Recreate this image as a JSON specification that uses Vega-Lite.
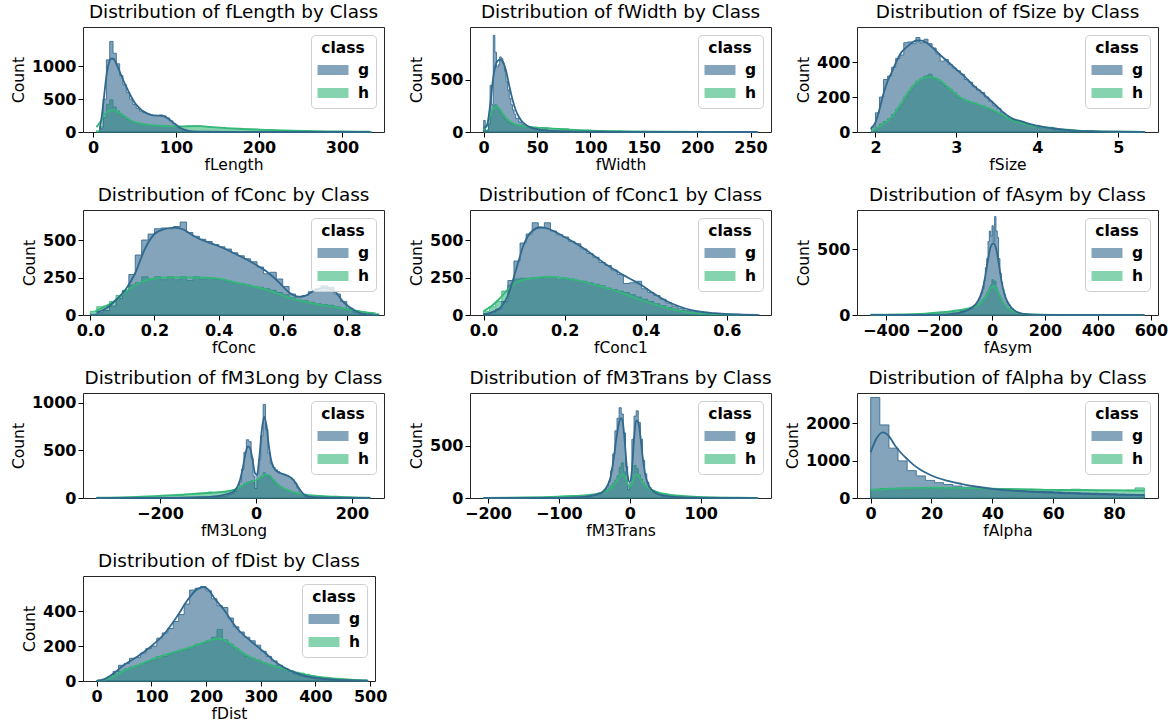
{
"$schema":"https://vega.github.io/schema/vega-lite/v6.json",
"background":"white",
"padding":{"left":10,"top":2,"right":2,"bottom":0},
"columns":3,
"bounds":"flush",
"spacing":{"row":78,"column":86},
"resolve":{"scale":{"fill":"independent","stroke":"independent"},"legend":{"fill":"independent","stroke":"independent"}},
"datasets":{
"fLength":[
{"c":"h","x":4,"n":20},{"c":"h","x":8,"n":90},{"c":"h","x":12,"n":220},{"c":"h","x":16,"n":420},{"c":"h","x":20,"n":490},{"c":"h","x":24,"n":380},{"c":"h","x":28,"n":320},{"c":"h","x":32,"n":270},{"c":"h","x":36,"n":230},{"c":"h","x":40,"n":190},{"c":"h","x":44,"n":165},{"c":"h","x":48,"n":145},{"c":"h","x":52,"n":130},{"c":"h","x":56,"n":120},{"c":"h","x":60,"n":115},{"c":"h","x":64,"n":108},{"c":"h","x":68,"n":100},{"c":"h","x":72,"n":98},{"c":"h","x":76,"n":95},{"c":"h","x":80,"n":92},{"c":"h","x":84,"n":90},{"c":"h","x":88,"n":88},{"c":"h","x":92,"n":86},{"c":"h","x":96,"n":85},{"c":"h","x":100,"n":84},{"c":"h","x":104,"n":84},{"c":"h","x":108,"n":85},{"c":"h","x":112,"n":88},{"c":"h","x":116,"n":90},{"c":"h","x":120,"n":92},{"c":"h","x":130,"n":85},{"c":"h","x":140,"n":70},{"c":"h","x":160,"n":55},{"c":"h","x":180,"n":42},{"c":"h","x":200,"n":32},{"c":"h","x":220,"n":24},{"c":"h","x":240,"n":17},{"c":"h","x":260,"n":12},{"c":"h","x":280,"n":9},{"c":"h","x":300,"n":6},{"c":"h","x":320,"n":4},{"c":"h","x":336,"n":0},
{"c":"g","x":8,"n":60},{"c":"g","x":12,"n":500},{"c":"g","x":16,"n":1100},{"c":"g","x":20,"n":1380},{"c":"g","x":24,"n":1200},{"c":"g","x":28,"n":1040},{"c":"g","x":32,"n":860},{"c":"g","x":36,"n":720},{"c":"g","x":40,"n":600},{"c":"g","x":44,"n":500},{"c":"g","x":48,"n":420},{"c":"g","x":52,"n":360},{"c":"g","x":56,"n":320},{"c":"g","x":60,"n":295},{"c":"g","x":64,"n":275},{"c":"g","x":68,"n":260},{"c":"g","x":72,"n":250},{"c":"g","x":76,"n":250},{"c":"g","x":80,"n":260},{"c":"g","x":84,"n":245},{"c":"g","x":88,"n":215},{"c":"g","x":92,"n":170},{"c":"g","x":96,"n":125},{"c":"g","x":100,"n":80},{"c":"g","x":104,"n":50},{"c":"g","x":108,"n":30},{"c":"g","x":112,"n":18},{"c":"g","x":116,"n":10},{"c":"g","x":120,"n":4},{"c":"g","x":160,"n":1},{"c":"g","x":334,"n":0}],
"fLength_k":[
{"c":"h","x":4,"k":75},{"c":"h","x":8,"k":140},{"c":"h","x":12,"k":230},{"c":"h","x":16,"k":295},{"c":"h","x":20,"k":325},{"c":"h","x":24,"k":332},{"c":"h","x":28,"k":320},{"c":"h","x":32,"k":290},{"c":"h","x":36,"k":255},{"c":"h","x":40,"k":220},{"c":"h","x":45,"k":180},{"c":"h","x":50,"k":152},{"c":"h","x":55,"k":135},{"c":"h","x":60,"k":122},{"c":"h","x":70,"k":105},{"c":"h","x":80,"k":95},{"c":"h","x":90,"k":88},{"c":"h","x":100,"k":85},{"c":"h","x":110,"k":86},{"c":"h","x":120,"k":90},{"c":"h","x":130,"k":88},{"c":"h","x":140,"k":78},{"c":"h","x":160,"k":60},{"c":"h","x":180,"k":46},{"c":"h","x":200,"k":36},{"c":"h","x":220,"k":28},{"c":"h","x":240,"k":21},{"c":"h","x":260,"k":15},{"c":"h","x":280,"k":11},{"c":"h","x":300,"k":8},{"c":"h","x":320,"k":6},{"c":"h","x":334,"k":5},
{"c":"g","x":8,"k":40},{"c":"g","x":10,"k":200},{"c":"g","x":13,"k":520},{"c":"g","x":16,"k":850},{"c":"g","x":19,"k":1050},{"c":"g","x":22,"k":1120},{"c":"g","x":25,"k":1110},{"c":"g","x":28,"k":1040},{"c":"g","x":32,"k":920},{"c":"g","x":36,"k":800},{"c":"g","x":40,"k":690},{"c":"g","x":45,"k":560},{"c":"g","x":50,"k":450},{"c":"g","x":55,"k":375},{"c":"g","x":60,"k":320},{"c":"g","x":65,"k":285},{"c":"g","x":70,"k":262},{"c":"g","x":75,"k":252},{"c":"g","x":80,"k":250},{"c":"g","x":85,"k":242},{"c":"g","x":90,"k":210},{"c":"g","x":95,"k":160},{"c":"g","x":100,"k":110},{"c":"g","x":105,"k":65},{"c":"g","x":110,"k":35},{"c":"g","x":115,"k":18},{"c":"g","x":120,"k":10},{"c":"g","x":140,"k":4},{"c":"g","x":180,"k":2},{"c":"g","x":250,"k":1},{"c":"g","x":334,"k":0.5}],
"fWidth":[
{"c":"h","x":0,"n":40},{"c":"h","x":1.5,"n":5},{"c":"h","x":3,"n":20},{"c":"h","x":4.5,"n":70},{"c":"h","x":6,"n":150},{"c":"h","x":7.5,"n":190},{"c":"h","x":9,"n":250},{"c":"h","x":10.5,"n":260},{"c":"h","x":12,"n":245},{"c":"h","x":13.5,"n":220},{"c":"h","x":15,"n":190},{"c":"h","x":16.5,"n":165},{"c":"h","x":18,"n":140},{"c":"h","x":19.5,"n":120},{"c":"h","x":21,"n":105},{"c":"h","x":22.5,"n":95},{"c":"h","x":24,"n":85},{"c":"h","x":25.5,"n":78},{"c":"h","x":27,"n":72},{"c":"h","x":28.5,"n":68},{"c":"h","x":30,"n":63},{"c":"h","x":33,"n":58},{"c":"h","x":36,"n":54},{"c":"h","x":40,"n":48},{"c":"h","x":45,"n":44},{"c":"h","x":50,"n":40},{"c":"h","x":60,"n":30},{"c":"h","x":80,"n":18},{"c":"h","x":100,"n":10},{"c":"h","x":130,"n":4},{"c":"h","x":180,"n":1},{"c":"h","x":257,"n":0},
{"c":"g","x":0,"n":110},{"c":"g","x":1.5,"n":8},{"c":"g","x":3,"n":15},{"c":"g","x":4.5,"n":80},{"c":"g","x":6,"n":445},{"c":"g","x":7.5,"n":260},{"c":"g","x":9,"n":920},{"c":"g","x":10.5,"n":760},{"c":"g","x":12,"n":620},{"c":"g","x":13.5,"n":640},{"c":"g","x":15,"n":715},{"c":"g","x":16.5,"n":700},{"c":"g","x":18,"n":650},{"c":"g","x":19.5,"n":580},{"c":"g","x":21,"n":480},{"c":"g","x":22.5,"n":400},{"c":"g","x":24,"n":320},{"c":"g","x":25.5,"n":260},{"c":"g","x":27,"n":210},{"c":"g","x":28.5,"n":170},{"c":"g","x":30,"n":130},{"c":"g","x":33,"n":95},{"c":"g","x":36,"n":70},{"c":"g","x":40,"n":48},{"c":"g","x":45,"n":32},{"c":"g","x":50,"n":20},{"c":"g","x":60,"n":9},{"c":"g","x":80,"n":4},{"c":"g","x":100,"n":2},{"c":"g","x":130,"n":1},{"c":"g","x":180,"n":0.5},{"c":"g","x":257,"n":0}],
"fWidth_k":[
{"c":"h","x":0,"k":20},{"c":"h","x":3,"k":60},{"c":"h","x":6,"k":150},{"c":"h","x":9,"k":225},{"c":"h","x":12,"k":245},{"c":"h","x":15,"k":220},{"c":"h","x":18,"k":175},{"c":"h","x":21,"k":135},{"c":"h","x":24,"k":105},{"c":"h","x":27,"k":85},{"c":"h","x":30,"k":72},{"c":"h","x":35,"k":60},{"c":"h","x":40,"k":50},{"c":"h","x":50,"k":42},{"c":"h","x":60,"k":36},{"c":"h","x":70,"k":29},{"c":"h","x":80,"k":23},{"c":"h","x":90,"k":18},{"c":"h","x":100,"k":13},{"c":"h","x":120,"k":8},{"c":"h","x":140,"k":5.5},{"c":"h","x":170,"k":3},{"c":"h","x":210,"k":1.5},{"c":"h","x":256,"k":0.5},
{"c":"g","x":0,"k":40},{"c":"g","x":3,"k":60},{"c":"g","x":6,"k":250},{"c":"g","x":9,"k":520},{"c":"g","x":12,"k":660},{"c":"g","x":15,"k":690},{"c":"g","x":18,"k":670},{"c":"g","x":21,"k":580},{"c":"g","x":24,"k":440},{"c":"g","x":27,"k":310},{"c":"g","x":30,"k":210},{"c":"g","x":33,"k":145},{"c":"g","x":36,"k":100},{"c":"g","x":40,"k":65},{"c":"g","x":45,"k":40},{"c":"g","x":50,"k":27},{"c":"g","x":60,"k":14},{"c":"g","x":70,"k":8},{"c":"g","x":90,"k":4},{"c":"g","x":120,"k":2},{"c":"g","x":180,"k":0.5},{"c":"g","x":256,"k":0.2}],
"fSize":[
{"c":"h","x":1.95,"n":8},{"c":"h","x":2.0,"n":25},{"c":"h","x":2.05,"n":45},{"c":"h","x":2.1,"n":60},{"c":"h","x":2.15,"n":75},{"c":"h","x":2.2,"n":100},{"c":"h","x":2.25,"n":130},{"c":"h","x":2.3,"n":160},{"c":"h","x":2.35,"n":200},{"c":"h","x":2.4,"n":230},{"c":"h","x":2.45,"n":260},{"c":"h","x":2.5,"n":290},{"c":"h","x":2.55,"n":305},{"c":"h","x":2.6,"n":320},{"c":"h","x":2.65,"n":330},{"c":"h","x":2.7,"n":310},{"c":"h","x":2.75,"n":300},{"c":"h","x":2.8,"n":280},{"c":"h","x":2.85,"n":260},{"c":"h","x":2.9,"n":245},{"c":"h","x":2.95,"n":225},{"c":"h","x":3.0,"n":200},{"c":"h","x":3.05,"n":190},{"c":"h","x":3.1,"n":180},{"c":"h","x":3.15,"n":170},{"c":"h","x":3.2,"n":165},{"c":"h","x":3.25,"n":155},{"c":"h","x":3.3,"n":150},{"c":"h","x":3.35,"n":140},{"c":"h","x":3.4,"n":125},{"c":"h","x":3.45,"n":115},{"c":"h","x":3.5,"n":105},{"c":"h","x":3.55,"n":90},{"c":"h","x":3.6,"n":80},{"c":"h","x":3.65,"n":70},{"c":"h","x":3.7,"n":62},{"c":"h","x":3.75,"n":55},{"c":"h","x":3.8,"n":50},{"c":"h","x":3.85,"n":45},{"c":"h","x":3.9,"n":40},{"c":"h","x":3.95,"n":35},{"c":"h","x":4.0,"n":27},{"c":"h","x":4.2,"n":15},{"c":"h","x":4.4,"n":8},{"c":"h","x":4.7,"n":3},{"c":"h","x":5.0,"n":1},{"c":"h","x":5.33,"n":0},
{"c":"g","x":1.95,"n":30},{"c":"g","x":2.0,"n":110},{"c":"g","x":2.05,"n":200},{"c":"g","x":2.1,"n":300},{"c":"g","x":2.15,"n":320},{"c":"g","x":2.2,"n":370},{"c":"g","x":2.25,"n":420},{"c":"g","x":2.3,"n":440},{"c":"g","x":2.35,"n":510},{"c":"g","x":2.4,"n":515},{"c":"g","x":2.45,"n":505},{"c":"g","x":2.5,"n":540},{"c":"g","x":2.55,"n":510},{"c":"g","x":2.6,"n":530},{"c":"g","x":2.65,"n":505},{"c":"g","x":2.7,"n":480},{"c":"g","x":2.75,"n":445},{"c":"g","x":2.8,"n":405},{"c":"g","x":2.85,"n":415},{"c":"g","x":2.9,"n":385},{"c":"g","x":2.95,"n":365},{"c":"g","x":3.0,"n":350},{"c":"g","x":3.05,"n":330},{"c":"g","x":3.1,"n":300},{"c":"g","x":3.15,"n":285},{"c":"g","x":3.2,"n":260},{"c":"g","x":3.25,"n":240},{"c":"g","x":3.3,"n":225},{"c":"g","x":3.35,"n":200},{"c":"g","x":3.4,"n":175},{"c":"g","x":3.45,"n":150},{"c":"g","x":3.5,"n":135},{"c":"g","x":3.55,"n":110},{"c":"g","x":3.6,"n":90},{"c":"g","x":3.65,"n":75},{"c":"g","x":3.7,"n":65},{"c":"g","x":3.75,"n":58},{"c":"g","x":3.8,"n":55},{"c":"g","x":3.85,"n":50},{"c":"g","x":3.9,"n":42},{"c":"g","x":3.95,"n":36},{"c":"g","x":4.0,"n":25},{"c":"g","x":4.2,"n":13},{"c":"g","x":4.4,"n":6},{"c":"g","x":4.7,"n":2},{"c":"g","x":5.0,"n":1},{"c":"g","x":5.33,"n":0}],
"fSize_k":[
{"c":"h","x":1.95,"k":5},{"c":"h","x":2.0,"k":18},{"c":"h","x":2.1,"k":46},{"c":"h","x":2.2,"k":85},{"c":"h","x":2.3,"k":150},{"c":"h","x":2.4,"k":225},{"c":"h","x":2.5,"k":280},{"c":"h","x":2.6,"k":310},{"c":"h","x":2.7,"k":314},{"c":"h","x":2.8,"k":294},{"c":"h","x":2.9,"k":256},{"c":"h","x":3.0,"k":215},{"c":"h","x":3.1,"k":185},{"c":"h","x":3.2,"k":168},{"c":"h","x":3.3,"k":152},{"c":"h","x":3.4,"k":135},{"c":"h","x":3.5,"k":115},{"c":"h","x":3.6,"k":88},{"c":"h","x":3.7,"k":66},{"c":"h","x":3.8,"k":52},{"c":"h","x":3.9,"k":40},{"c":"h","x":4.0,"k":32},{"c":"h","x":4.15,"k":23},{"c":"h","x":4.35,"k":13},{"c":"h","x":4.55,"k":7},{"c":"h","x":4.8,"k":4},{"c":"h","x":5.0,"k":2.5},{"c":"h","x":5.3,"k":1},
{"c":"g","x":1.94,"k":18},{"c":"g","x":2.0,"k":55},{"c":"g","x":2.05,"k":130},{"c":"g","x":2.1,"k":220},{"c":"g","x":2.15,"k":290},{"c":"g","x":2.2,"k":340},{"c":"g","x":2.26,"k":404},{"c":"g","x":2.32,"k":455},{"c":"g","x":2.39,"k":486},{"c":"g","x":2.45,"k":510},{"c":"g","x":2.51,"k":523},{"c":"g","x":2.57,"k":522},{"c":"g","x":2.63,"k":510},{"c":"g","x":2.7,"k":485},{"c":"g","x":2.8,"k":440},{"c":"g","x":2.9,"k":400},{"c":"g","x":3.0,"k":358},{"c":"g","x":3.1,"k":318},{"c":"g","x":3.2,"k":270},{"c":"g","x":3.3,"k":232},{"c":"g","x":3.4,"k":190},{"c":"g","x":3.5,"k":147},{"c":"g","x":3.6,"k":105},{"c":"g","x":3.7,"k":75},{"c":"g","x":3.8,"k":62},{"c":"g","x":3.9,"k":46},{"c":"g","x":4.0,"k":36},{"c":"g","x":4.1,"k":27},{"c":"g","x":4.2,"k":20},{"c":"g","x":4.35,"k":12},{"c":"g","x":4.5,"k":7},{"c":"g","x":4.7,"k":4},{"c":"g","x":5.0,"k":2},{"c":"g","x":5.33,"k":0.5}],
"fConc":[
{"c":"h","x":0.0,"n":25},{"c":"h","x":0.02,"n":55},{"c":"h","x":0.04,"n":60},{"c":"h","x":0.06,"n":90},{"c":"h","x":0.08,"n":130},{"c":"h","x":0.1,"n":165},{"c":"h","x":0.12,"n":200},{"c":"h","x":0.14,"n":215},{"c":"h","x":0.16,"n":255},{"c":"h","x":0.18,"n":240},{"c":"h","x":0.2,"n":255},{"c":"h","x":0.22,"n":235},{"c":"h","x":0.24,"n":255},{"c":"h","x":0.26,"n":235},{"c":"h","x":0.28,"n":255},{"c":"h","x":0.3,"n":230},{"c":"h","x":0.32,"n":255},{"c":"h","x":0.34,"n":240},{"c":"h","x":0.36,"n":250},{"c":"h","x":0.38,"n":240},{"c":"h","x":0.4,"n":235},{"c":"h","x":0.42,"n":225},{"c":"h","x":0.44,"n":215},{"c":"h","x":0.46,"n":210},{"c":"h","x":0.48,"n":200},{"c":"h","x":0.5,"n":190},{"c":"h","x":0.52,"n":185},{"c":"h","x":0.54,"n":175},{"c":"h","x":0.56,"n":165},{"c":"h","x":0.58,"n":150},{"c":"h","x":0.6,"n":135},{"c":"h","x":0.62,"n":115},{"c":"h","x":0.64,"n":100},{"c":"h","x":0.66,"n":95},{"c":"h","x":0.68,"n":85},{"c":"h","x":0.7,"n":75},{"c":"h","x":0.72,"n":70},{"c":"h","x":0.74,"n":65},{"c":"h","x":0.76,"n":55},{"c":"h","x":0.78,"n":45},{"c":"h","x":0.8,"n":35},{"c":"h","x":0.82,"n":28},{"c":"h","x":0.84,"n":20},{"c":"h","x":0.86,"n":15},{"c":"h","x":0.88,"n":8},{"c":"h","x":0.9,"n":0},
{"c":"g","x":0.0,"n":5},{"c":"g","x":0.02,"n":15},{"c":"g","x":0.04,"n":30},{"c":"g","x":0.06,"n":60},{"c":"g","x":0.08,"n":110},{"c":"g","x":0.1,"n":160},{"c":"g","x":0.12,"n":270},{"c":"g","x":0.14,"n":400},{"c":"g","x":0.16,"n":500},{"c":"g","x":0.18,"n":540},{"c":"g","x":0.2,"n":575},{"c":"g","x":0.22,"n":580},{"c":"g","x":0.24,"n":575},{"c":"g","x":0.26,"n":590},{"c":"g","x":0.28,"n":620},{"c":"g","x":0.3,"n":550},{"c":"g","x":0.32,"n":525},{"c":"g","x":0.34,"n":505},{"c":"g","x":0.36,"n":490},{"c":"g","x":0.38,"n":470},{"c":"g","x":0.4,"n":455},{"c":"g","x":0.42,"n":440},{"c":"g","x":0.44,"n":415},{"c":"g","x":0.46,"n":395},{"c":"g","x":0.48,"n":375},{"c":"g","x":0.5,"n":355},{"c":"g","x":0.52,"n":320},{"c":"g","x":0.54,"n":275},{"c":"g","x":0.56,"n":285},{"c":"g","x":0.58,"n":240},{"c":"g","x":0.6,"n":190},{"c":"g","x":0.62,"n":140},{"c":"g","x":0.64,"n":120},{"c":"g","x":0.66,"n":130},{"c":"g","x":0.68,"n":155},{"c":"g","x":0.7,"n":175},{"c":"g","x":0.72,"n":195},{"c":"g","x":0.74,"n":185},{"c":"g","x":0.76,"n":140},{"c":"g","x":0.78,"n":90},{"c":"g","x":0.8,"n":45},{"c":"g","x":0.82,"n":20},{"c":"g","x":0.84,"n":8},{"c":"g","x":0.86,"n":2},{"c":"g","x":0.88,"n":1},{"c":"g","x":0.9,"n":0}],
"fConc_k":[
{"c":"h","x":0.015,"k":25},{"c":"h","x":0.04,"k":50},{"c":"h","x":0.06,"k":73},{"c":"h","x":0.09,"k":115},{"c":"h","x":0.12,"k":170},{"c":"h","x":0.15,"k":212},{"c":"h","x":0.18,"k":236},{"c":"h","x":0.21,"k":246},{"c":"h","x":0.25,"k":251},{"c":"h","x":0.3,"k":250},{"c":"h","x":0.35,"k":249},{"c":"h","x":0.4,"k":242},{"c":"h","x":0.45,"k":218},{"c":"h","x":0.5,"k":195},{"c":"h","x":0.55,"k":168},{"c":"h","x":0.6,"k":130},{"c":"h","x":0.65,"k":97},{"c":"h","x":0.7,"k":74},{"c":"h","x":0.75,"k":58},{"c":"h","x":0.8,"k":40},{"c":"h","x":0.85,"k":20},{"c":"h","x":0.89,"k":10},
{"c":"g","x":0.02,"k":17},{"c":"g","x":0.05,"k":45},{"c":"g","x":0.08,"k":100},{"c":"g","x":0.11,"k":170},{"c":"g","x":0.14,"k":280},{"c":"g","x":0.17,"k":440},{"c":"g","x":0.2,"k":540},{"c":"g","x":0.23,"k":572},{"c":"g","x":0.26,"k":582},{"c":"g","x":0.29,"k":570},{"c":"g","x":0.32,"k":530},{"c":"g","x":0.35,"k":498},{"c":"g","x":0.4,"k":460},{"c":"g","x":0.45,"k":410},{"c":"g","x":0.5,"k":355},{"c":"g","x":0.55,"k":290},{"c":"g","x":0.59,"k":214},{"c":"g","x":0.62,"k":150},{"c":"g","x":0.65,"k":122},{"c":"g","x":0.67,"k":128},{"c":"g","x":0.7,"k":165},{"c":"g","x":0.73,"k":182},{"c":"g","x":0.76,"k":162},{"c":"g","x":0.79,"k":85},{"c":"g","x":0.82,"k":35},{"c":"g","x":0.85,"k":8},{"c":"g","x":0.88,"k":2}],
"fConc1":[
{"c":"h","x":0.0,"n":25},{"c":"h","x":0.015,"n":55},{"c":"h","x":0.03,"n":90},{"c":"h","x":0.045,"n":160},{"c":"h","x":0.06,"n":200},{"c":"h","x":0.075,"n":240},{"c":"h","x":0.09,"n":245},{"c":"h","x":0.105,"n":245},{"c":"h","x":0.12,"n":250},{"c":"h","x":0.135,"n":245},{"c":"h","x":0.15,"n":255},{"c":"h","x":0.165,"n":250},{"c":"h","x":0.18,"n":235},{"c":"h","x":0.195,"n":245},{"c":"h","x":0.21,"n":240},{"c":"h","x":0.225,"n":230},{"c":"h","x":0.24,"n":225},{"c":"h","x":0.255,"n":215},{"c":"h","x":0.27,"n":205},{"c":"h","x":0.285,"n":195},{"c":"h","x":0.3,"n":180},{"c":"h","x":0.315,"n":170},{"c":"h","x":0.33,"n":160},{"c":"h","x":0.345,"n":150},{"c":"h","x":0.36,"n":135},{"c":"h","x":0.375,"n":120},{"c":"h","x":0.39,"n":105},{"c":"h","x":0.405,"n":90},{"c":"h","x":0.42,"n":75},{"c":"h","x":0.435,"n":62},{"c":"h","x":0.45,"n":50},{"c":"h","x":0.465,"n":40},{"c":"h","x":0.48,"n":30},{"c":"h","x":0.495,"n":22},{"c":"h","x":0.51,"n":15},{"c":"h","x":0.525,"n":12},{"c":"h","x":0.54,"n":9},{"c":"h","x":0.555,"n":7},{"c":"h","x":0.57,"n":5},{"c":"h","x":0.585,"n":4},{"c":"h","x":0.6,"n":2},{"c":"h","x":0.65,"n":0},
{"c":"g","x":0.0,"n":5},{"c":"g","x":0.015,"n":15},{"c":"g","x":0.03,"n":40},{"c":"g","x":0.045,"n":90},{"c":"g","x":0.06,"n":230},{"c":"g","x":0.075,"n":360},{"c":"g","x":0.09,"n":480},{"c":"g","x":0.105,"n":540},{"c":"g","x":0.12,"n":615},{"c":"g","x":0.135,"n":580},{"c":"g","x":0.15,"n":615},{"c":"g","x":0.165,"n":560},{"c":"g","x":0.18,"n":535},{"c":"g","x":0.195,"n":520},{"c":"g","x":0.21,"n":490},{"c":"g","x":0.225,"n":475},{"c":"g","x":0.24,"n":440},{"c":"g","x":0.255,"n":410},{"c":"g","x":0.27,"n":385},{"c":"g","x":0.285,"n":350},{"c":"g","x":0.3,"n":330},{"c":"g","x":0.315,"n":300},{"c":"g","x":0.33,"n":270},{"c":"g","x":0.345,"n":210},{"c":"g","x":0.36,"n":215},{"c":"g","x":0.375,"n":225},{"c":"g","x":0.39,"n":175},{"c":"g","x":0.405,"n":150},{"c":"g","x":0.42,"n":130},{"c":"g","x":0.435,"n":105},{"c":"g","x":0.45,"n":80},{"c":"g","x":0.465,"n":60},{"c":"g","x":0.48,"n":45},{"c":"g","x":0.495,"n":32},{"c":"g","x":0.51,"n":22},{"c":"g","x":0.525,"n":15},{"c":"g","x":0.54,"n":10},{"c":"g","x":0.555,"n":7},{"c":"g","x":0.57,"n":5},{"c":"g","x":0.585,"n":3},{"c":"g","x":0.6,"n":1},{"c":"g","x":0.68,"n":0}],
"fConc1_k":[
{"c":"h","x":0.0,"k":27},{"c":"h","x":0.02,"k":60},{"c":"h","x":0.04,"k":110},{"c":"h","x":0.06,"k":170},{"c":"h","x":0.08,"k":215},{"c":"h","x":0.1,"k":236},{"c":"h","x":0.13,"k":248},{"c":"h","x":0.16,"k":255},{"c":"h","x":0.19,"k":248},{"c":"h","x":0.22,"k":238},{"c":"h","x":0.25,"k":220},{"c":"h","x":0.28,"k":198},{"c":"h","x":0.31,"k":175},{"c":"h","x":0.34,"k":148},{"c":"h","x":0.37,"k":118},{"c":"h","x":0.4,"k":90},{"c":"h","x":0.43,"k":64},{"c":"h","x":0.46,"k":42},{"c":"h","x":0.49,"k":24},{"c":"h","x":0.52,"k":13},{"c":"h","x":0.56,"k":8},{"c":"h","x":0.6,"k":5},{"c":"h","x":0.63,"k":3},
{"c":"g","x":0.0,"k":5},{"c":"g","x":0.02,"k":18},{"c":"g","x":0.04,"k":45},{"c":"g","x":0.06,"k":130},{"c":"g","x":0.08,"k":300},{"c":"g","x":0.1,"k":475},{"c":"g","x":0.12,"k":560},{"c":"g","x":0.14,"k":585},{"c":"g","x":0.16,"k":575},{"c":"g","x":0.18,"k":550},{"c":"g","x":0.2,"k":520},{"c":"g","x":0.22,"k":490},{"c":"g","x":0.24,"k":456},{"c":"g","x":0.27,"k":400},{"c":"g","x":0.3,"k":342},{"c":"g","x":0.33,"k":290},{"c":"g","x":0.36,"k":243},{"c":"g","x":0.39,"k":198},{"c":"g","x":0.42,"k":143},{"c":"g","x":0.45,"k":95},{"c":"g","x":0.48,"k":60},{"c":"g","x":0.51,"k":34},{"c":"g","x":0.54,"k":20},{"c":"g","x":0.57,"k":12},{"c":"g","x":0.6,"k":6},{"c":"g","x":0.64,"k":3},{"c":"g","x":0.675,"k":1}],
"fAsym":[
{"c":"h","x":-458,"n":2},{"c":"h","x":-300,"n":6},{"c":"h","x":-250,"n":12},{"c":"h","x":-200,"n":22},{"c":"h","x":-150,"n":32},{"c":"h","x":-120,"n":42},{"c":"h","x":-100,"n":50},{"c":"h","x":-85,"n":58},{"c":"h","x":-70,"n":65},{"c":"h","x":-60,"n":72},{"c":"h","x":-55,"n":80},{"c":"h","x":-50,"n":88},{"c":"h","x":-45,"n":98},{"c":"h","x":-40,"n":110},{"c":"h","x":-35,"n":122},{"c":"h","x":-30,"n":135},{"c":"h","x":-25,"n":150},{"c":"h","x":-20,"n":170},{"c":"h","x":-15,"n":190},{"c":"h","x":-10,"n":210},{"c":"h","x":-5,"n":230},{"c":"h","x":0,"n":270},{"c":"h","x":5,"n":240},{"c":"h","x":10,"n":260},{"c":"h","x":15,"n":210},{"c":"h","x":20,"n":185},{"c":"h","x":25,"n":160},{"c":"h","x":30,"n":135},{"c":"h","x":35,"n":115},{"c":"h","x":40,"n":95},{"c":"h","x":45,"n":80},{"c":"h","x":50,"n":68},{"c":"h","x":55,"n":58},{"c":"h","x":60,"n":45},{"c":"h","x":70,"n":32},{"c":"h","x":80,"n":22},{"c":"h","x":90,"n":15},{"c":"h","x":100,"n":9},{"c":"h","x":120,"n":4},{"c":"h","x":150,"n":1.5},{"c":"h","x":250,"n":0.5},{"c":"h","x":575,"n":0},
{"c":"g","x":-458,"n":0.5},{"c":"g","x":-300,"n":2},{"c":"g","x":-200,"n":5},{"c":"g","x":-150,"n":15},{"c":"g","x":-120,"n":35},{"c":"g","x":-100,"n":42},{"c":"g","x":-85,"n":55},{"c":"g","x":-70,"n":75},{"c":"g","x":-60,"n":90},{"c":"g","x":-55,"n":105},{"c":"g","x":-50,"n":120},{"c":"g","x":-45,"n":140},{"c":"g","x":-40,"n":165},{"c":"g","x":-35,"n":200},{"c":"g","x":-30,"n":260},{"c":"g","x":-25,"n":360},{"c":"g","x":-20,"n":430},{"c":"g","x":-15,"n":560},{"c":"g","x":-10,"n":640},{"c":"g","x":-5,"n":600},{"c":"g","x":0,"n":680},{"c":"g","x":5,"n":560},{"c":"g","x":10,"n":750},{"c":"g","x":15,"n":640},{"c":"g","x":20,"n":590},{"c":"g","x":25,"n":430},{"c":"g","x":30,"n":320},{"c":"g","x":35,"n":250},{"c":"g","x":40,"n":200},{"c":"g","x":45,"n":160},{"c":"g","x":50,"n":125},{"c":"g","x":55,"n":100},{"c":"g","x":60,"n":75},{"c":"g","x":70,"n":50},{"c":"g","x":80,"n":32},{"c":"g","x":90,"n":20},{"c":"g","x":100,"n":10},{"c":"g","x":120,"n":4},{"c":"g","x":150,"n":1.5},{"c":"g","x":250,"n":0.5},{"c":"g","x":575,"n":0}],
"fAsym_k":[
{"c":"h","x":-458,"k":2},{"c":"h","x":-350,"k":4},{"c":"h","x":-300,"k":6},{"c":"h","x":-250,"k":11},{"c":"h","x":-200,"k":20},{"c":"h","x":-150,"k":30},{"c":"h","x":-100,"k":45},{"c":"h","x":-70,"k":62},{"c":"h","x":-50,"k":82},{"c":"h","x":-30,"k":120},{"c":"h","x":-15,"k":170},{"c":"h","x":-5,"k":205},{"c":"h","x":5,"k":218},{"c":"h","x":15,"k":205},{"c":"h","x":25,"k":168},{"c":"h","x":35,"k":125},{"c":"h","x":45,"k":88},{"c":"h","x":55,"k":62},{"c":"h","x":70,"k":40},{"c":"h","x":85,"k":24},{"c":"h","x":100,"k":14},{"c":"h","x":120,"k":8},{"c":"h","x":150,"k":4},{"c":"h","x":250,"k":1.5},{"c":"h","x":575,"k":0.5},
{"c":"g","x":-458,"k":0.5},{"c":"g","x":-300,"k":1},{"c":"g","x":-200,"k":3},{"c":"g","x":-150,"k":8},{"c":"g","x":-120,"k":18},{"c":"g","x":-100,"k":30},{"c":"g","x":-80,"k":50},{"c":"g","x":-60,"k":85},{"c":"g","x":-45,"k":140},{"c":"g","x":-35,"k":200},{"c":"g","x":-25,"k":300},{"c":"g","x":-15,"k":420},{"c":"g","x":-5,"k":520},{"c":"g","x":5,"k":545},{"c":"g","x":15,"k":510},{"c":"g","x":25,"k":400},{"c":"g","x":35,"k":270},{"c":"g","x":45,"k":175},{"c":"g","x":55,"k":115},{"c":"g","x":70,"k":65},{"c":"g","x":85,"k":35},{"c":"g","x":100,"k":18},{"c":"g","x":120,"k":8},{"c":"g","x":150,"k":3},{"c":"g","x":250,"k":1},{"c":"g","x":575,"k":0.3}],
"fM3Long":[
{"c":"h","x":-332,"n":4},{"c":"h","x":-250,"n":14},{"c":"h","x":-200,"n":28},{"c":"h","x":-150,"n":40},{"c":"h","x":-120,"n":48},{"c":"h","x":-100,"n":62},{"c":"h","x":-90,"n":55},{"c":"h","x":-80,"n":60},{"c":"h","x":-60,"n":70},{"c":"h","x":-50,"n":82},{"c":"h","x":-45,"n":90},{"c":"h","x":-40,"n":100},{"c":"h","x":-35,"n":115},{"c":"h","x":-30,"n":130},{"c":"h","x":-25,"n":150},{"c":"h","x":-20,"n":165},{"c":"h","x":-15,"n":170},{"c":"h","x":-10,"n":180},{"c":"h","x":-6,"n":165},{"c":"h","x":-2,"n":100},{"c":"h","x":2,"n":180},{"c":"h","x":6,"n":200},{"c":"h","x":10,"n":230},{"c":"h","x":15,"n":265},{"c":"h","x":20,"n":245},{"c":"h","x":25,"n":225},{"c":"h","x":30,"n":200},{"c":"h","x":35,"n":180},{"c":"h","x":40,"n":155},{"c":"h","x":45,"n":135},{"c":"h","x":50,"n":115},{"c":"h","x":55,"n":100},{"c":"h","x":60,"n":88},{"c":"h","x":65,"n":78},{"c":"h","x":70,"n":70},{"c":"h","x":75,"n":62},{"c":"h","x":80,"n":55},{"c":"h","x":85,"n":48},{"c":"h","x":90,"n":42},{"c":"h","x":95,"n":37},{"c":"h","x":100,"n":30},{"c":"h","x":110,"n":22},{"c":"h","x":130,"n":15},{"c":"h","x":160,"n":8},{"c":"h","x":200,"n":3},{"c":"h","x":238,"n":0},
{"c":"g","x":-332,"n":0.5},{"c":"g","x":-200,"n":2},{"c":"g","x":-120,"n":8},{"c":"g","x":-80,"n":20},{"c":"g","x":-60,"n":35},{"c":"g","x":-50,"n":50},{"c":"g","x":-45,"n":70},{"c":"g","x":-40,"n":100},{"c":"g","x":-35,"n":170},{"c":"g","x":-30,"n":300},{"c":"g","x":-25,"n":480},{"c":"g","x":-20,"n":610},{"c":"g","x":-15,"n":590},{"c":"g","x":-10,"n":420},{"c":"g","x":-6,"n":230},{"c":"g","x":-2,"n":100},{"c":"g","x":2,"n":250},{"c":"g","x":6,"n":400},{"c":"g","x":10,"n":650},{"c":"g","x":15,"n":980},{"c":"g","x":20,"n":720},{"c":"g","x":25,"n":470},{"c":"g","x":30,"n":360},{"c":"g","x":35,"n":320},{"c":"g","x":40,"n":295},{"c":"g","x":45,"n":275},{"c":"g","x":50,"n":260},{"c":"g","x":55,"n":250},{"c":"g","x":60,"n":240},{"c":"g","x":65,"n":230},{"c":"g","x":70,"n":215},{"c":"g","x":75,"n":190},{"c":"g","x":80,"n":150},{"c":"g","x":85,"n":105},{"c":"g","x":90,"n":65},{"c":"g","x":95,"n":38},{"c":"g","x":100,"n":18},{"c":"g","x":110,"n":6},{"c":"g","x":130,"n":1},{"c":"g","x":238,"n":0}],
"fM3Long_k":[
{"c":"h","x":-332,"k":3},{"c":"h","x":-250,"k":12},{"c":"h","x":-200,"k":23},{"c":"h","x":-143,"k":39},{"c":"h","x":-95,"k":55},{"c":"h","x":-53,"k":78},{"c":"h","x":-40,"k":95},{"c":"h","x":-26,"k":137},{"c":"h","x":-12,"k":170},{"c":"h","x":0,"k":186},{"c":"h","x":10,"k":215},{"c":"h","x":20,"k":245},{"c":"h","x":28,"k":238},{"c":"h","x":37,"k":186},{"c":"h","x":51,"k":120},{"c":"h","x":71,"k":72},{"c":"h","x":99,"k":39},{"c":"h","x":134,"k":23},{"c":"h","x":168,"k":13},{"c":"h","x":203,"k":6},{"c":"h","x":238,"k":3},
{"c":"g","x":-332,"k":0.5},{"c":"g","x":-200,"k":2},{"c":"g","x":-120,"k":8},{"c":"g","x":-80,"k":20},{"c":"g","x":-60,"k":40},{"c":"g","x":-45,"k":75},{"c":"g","x":-35,"k":160},{"c":"g","x":-28,"k":300},{"c":"g","x":-22,"k":460},{"c":"g","x":-17,"k":540},{"c":"g","x":-12,"k":520},{"c":"g","x":-7,"k":400},{"c":"g","x":-2,"k":260},{"c":"g","x":2,"k":240},{"c":"g","x":7,"k":420},{"c":"g","x":12,"k":700},{"c":"g","x":17,"k":850},{"c":"g","x":22,"k":760},{"c":"g","x":27,"k":540},{"c":"g","x":32,"k":390},{"c":"g","x":38,"k":310},{"c":"g","x":45,"k":275},{"c":"g","x":55,"k":252},{"c":"g","x":65,"k":235},{"c":"g","x":75,"k":205},{"c":"g","x":82,"k":165},{"c":"g","x":88,"k":115},{"c":"g","x":94,"k":70},{"c":"g","x":100,"k":38},{"c":"g","x":108,"k":18},{"c":"g","x":120,"k":8},{"c":"g","x":140,"k":3},{"c":"g","x":238,"k":0.5}],
"fM3Trans":[
{"c":"h","x":-206,"n":2},{"c":"h","x":-150,"n":5},{"c":"h","x":-120,"n":9},{"c":"h","x":-100,"n":16},{"c":"h","x":-70,"n":25},{"c":"h","x":-55,"n":35},{"c":"h","x":-45,"n":45},{"c":"h","x":-40,"n":55},{"c":"h","x":-36,"n":65},{"c":"h","x":-33,"n":80},{"c":"h","x":-30,"n":95},{"c":"h","x":-27,"n":115},{"c":"h","x":-24,"n":140},{"c":"h","x":-21,"n":170},{"c":"h","x":-18,"n":210},{"c":"h","x":-15,"n":290},{"c":"h","x":-12,"n":335},{"c":"h","x":-9,"n":250},{"c":"h","x":-6,"n":160},{"c":"h","x":-3,"n":110},{"c":"h","x":0,"n":120},{"c":"h","x":3,"n":190},{"c":"h","x":6,"n":310},{"c":"h","x":9,"n":280},{"c":"h","x":12,"n":220},{"c":"h","x":15,"n":180},{"c":"h","x":18,"n":145},{"c":"h","x":21,"n":120},{"c":"h","x":24,"n":100},{"c":"h","x":27,"n":85},{"c":"h","x":30,"n":72},{"c":"h","x":33,"n":62},{"c":"h","x":36,"n":54},{"c":"h","x":40,"n":45},{"c":"h","x":45,"n":34},{"c":"h","x":55,"n":24},{"c":"h","x":70,"n":14},{"c":"h","x":100,"n":6},{"c":"h","x":140,"n":2},{"c":"h","x":180,"n":0},
{"c":"g","x":-206,"n":0.5},{"c":"g","x":-100,"n":3},{"c":"g","x":-70,"n":10},{"c":"g","x":-55,"n":25},{"c":"g","x":-45,"n":40},{"c":"g","x":-40,"n":55},{"c":"g","x":-36,"n":80},{"c":"g","x":-33,"n":110},{"c":"g","x":-30,"n":160},{"c":"g","x":-27,"n":260},{"c":"g","x":-24,"n":420},{"c":"g","x":-21,"n":640},{"c":"g","x":-18,"n":760},{"c":"g","x":-15,"n":860},{"c":"g","x":-12,"n":800},{"c":"g","x":-9,"n":620},{"c":"g","x":-6,"n":300},{"c":"g","x":-3,"n":80},{"c":"g","x":0,"n":140},{"c":"g","x":3,"n":560},{"c":"g","x":6,"n":780},{"c":"g","x":9,"n":830},{"c":"g","x":12,"n":720},{"c":"g","x":15,"n":560},{"c":"g","x":18,"n":360},{"c":"g","x":21,"n":230},{"c":"g","x":24,"n":150},{"c":"g","x":27,"n":100},{"c":"g","x":30,"n":75},{"c":"g","x":33,"n":55},{"c":"g","x":36,"n":42},{"c":"g","x":40,"n":30},{"c":"g","x":45,"n":18},{"c":"g","x":55,"n":8},{"c":"g","x":70,"n":3},{"c":"g","x":100,"n":0.5},{"c":"g","x":180,"n":0}],
"fM3Trans_k":[
{"c":"h","x":-206,"k":2},{"c":"h","x":-150,"k":5},{"c":"h","x":-120,"k":9},{"c":"h","x":-100,"k":13},{"c":"h","x":-80,"k":19},{"c":"h","x":-60,"k":28},{"c":"h","x":-45,"k":42},{"c":"h","x":-35,"k":62},{"c":"h","x":-28,"k":88},{"c":"h","x":-22,"k":125},{"c":"h","x":-17,"k":175},{"c":"h","x":-13,"k":215},{"c":"h","x":-9,"k":225},{"c":"h","x":-5,"k":170},{"c":"h","x":-1,"k":110},{"c":"h","x":2,"k":120},{"c":"h","x":5,"k":180},{"c":"h","x":8,"k":225},{"c":"h","x":12,"k":215},{"c":"h","x":16,"k":170},{"c":"h","x":20,"k":132},{"c":"h","x":25,"k":100},{"c":"h","x":30,"k":80},{"c":"h","x":38,"k":58},{"c":"h","x":45,"k":45},{"c":"h","x":55,"k":33},{"c":"h","x":70,"k":22},{"c":"h","x":90,"k":13},{"c":"h","x":120,"k":6},{"c":"h","x":150,"k":3},{"c":"h","x":180,"k":1},
{"c":"g","x":-206,"k":0.3},{"c":"g","x":-100,"k":2},{"c":"g","x":-70,"k":8},{"c":"g","x":-55,"k":20},{"c":"g","x":-45,"k":38},{"c":"g","x":-38,"k":60},{"c":"g","x":-32,"k":110},{"c":"g","x":-27,"k":200},{"c":"g","x":-23,"k":360},{"c":"g","x":-19,"k":560},{"c":"g","x":-15,"k":720},{"c":"g","x":-12,"k":760},{"c":"g","x":-9,"k":680},{"c":"g","x":-6,"k":450},{"c":"g","x":-3,"k":210},{"c":"g","x":0,"k":150},{"c":"g","x":3,"k":260},{"c":"g","x":6,"k":560},{"c":"g","x":9,"k":740},{"c":"g","x":12,"k":720},{"c":"g","x":15,"k":590},{"c":"g","x":18,"k":400},{"c":"g","x":22,"k":220},{"c":"g","x":26,"k":130},{"c":"g","x":30,"k":85},{"c":"g","x":35,"k":55},{"c":"g","x":40,"k":38},{"c":"g","x":50,"k":22},{"c":"g","x":65,"k":10},{"c":"g","x":90,"k":3},{"c":"g","x":130,"k":1},{"c":"g","x":180,"k":0.3}],
"fAlpha":[
{"c":"h","x":0,"n":230},{"c":"h","x":3,"n":250},{"c":"h","x":6,"n":255},{"c":"h","x":9,"n":260},{"c":"h","x":12,"n":265},{"c":"h","x":15,"n":275},{"c":"h","x":18,"n":270},{"c":"h","x":21,"n":268},{"c":"h","x":24,"n":262},{"c":"h","x":27,"n":265},{"c":"h","x":30,"n":258},{"c":"h","x":33,"n":255},{"c":"h","x":36,"n":250},{"c":"h","x":39,"n":248},{"c":"h","x":42,"n":245},{"c":"h","x":45,"n":240},{"c":"h","x":48,"n":238},{"c":"h","x":51,"n":235},{"c":"h","x":54,"n":232},{"c":"h","x":57,"n":228},{"c":"h","x":60,"n":225},{"c":"h","x":63,"n":222},{"c":"h","x":66,"n":235},{"c":"h","x":69,"n":220},{"c":"h","x":72,"n":215},{"c":"h","x":75,"n":212},{"c":"h","x":78,"n":210},{"c":"h","x":81,"n":208},{"c":"h","x":84,"n":215},{"c":"h","x":87,"n":270},{"c":"h","x":90,"n":0},
{"c":"g","x":0,"n":2680},{"c":"g","x":3,"n":1950},{"c":"g","x":6,"n":1330},{"c":"g","x":9,"n":990},{"c":"g","x":12,"n":730},{"c":"g","x":15,"n":590},{"c":"g","x":18,"n":470},{"c":"g","x":21,"n":410},{"c":"g","x":24,"n":360},{"c":"g","x":27,"n":320},{"c":"g","x":30,"n":290},{"c":"g","x":33,"n":270},{"c":"g","x":36,"n":250},{"c":"g","x":39,"n":235},{"c":"g","x":42,"n":220},{"c":"g","x":45,"n":210},{"c":"g","x":48,"n":200},{"c":"g","x":51,"n":190},{"c":"g","x":54,"n":180},{"c":"g","x":57,"n":170},{"c":"g","x":60,"n":160},{"c":"g","x":63,"n":150},{"c":"g","x":66,"n":142},{"c":"g","x":69,"n":135},{"c":"g","x":72,"n":128},{"c":"g","x":75,"n":120},{"c":"g","x":78,"n":112},{"c":"g","x":81,"n":105},{"c":"g","x":84,"n":98},{"c":"g","x":87,"n":92},{"c":"g","x":90,"n":0}],
"fAlpha_k":[
{"c":"h","x":0,"k":213},{"c":"h","x":5,"k":240},{"c":"h","x":10,"k":258},{"c":"h","x":15,"k":270},{"c":"h","x":20,"k":276},{"c":"h","x":25,"k":272},{"c":"h","x":30,"k":266},{"c":"h","x":35,"k":258},{"c":"h","x":40,"k":249},{"c":"h","x":45,"k":240},{"c":"h","x":50,"k":231},{"c":"h","x":55,"k":222},{"c":"h","x":60,"k":215},{"c":"h","x":65,"k":212},{"c":"h","x":70,"k":210},{"c":"h","x":75,"k":206},{"c":"h","x":80,"k":203},{"c":"h","x":85,"k":199},{"c":"h","x":90,"k":196},
{"c":"g","x":0,"k":1220},{"c":"g","x":2,"k":1600},{"c":"g","x":4,"k":1750},{"c":"g","x":6,"k":1650},{"c":"g","x":8,"k":1400},{"c":"g","x":10,"k":1200},{"c":"g","x":12,"k":1040},{"c":"g","x":14,"k":890},{"c":"g","x":16,"k":775},{"c":"g","x":18,"k":680},{"c":"g","x":20,"k":600},{"c":"g","x":25,"k":462},{"c":"g","x":30,"k":373},{"c":"g","x":35,"k":300},{"c":"g","x":40,"k":245},{"c":"g","x":45,"k":205},{"c":"g","x":50,"k":178},{"c":"g","x":55,"k":158},{"c":"g","x":60,"k":142},{"c":"g","x":65,"k":125},{"c":"g","x":70,"k":110},{"c":"g","x":75,"k":98},{"c":"g","x":80,"k":88},{"c":"g","x":85,"k":82},{"c":"g","x":90,"k":78}],
"fDist":[
{"c":"h","x":0,"n":3},{"c":"h","x":10,"n":8},{"c":"h","x":20,"n":20},{"c":"h","x":30,"n":40},{"c":"h","x":40,"n":55},{"c":"h","x":50,"n":68},{"c":"h","x":60,"n":80},{"c":"h","x":70,"n":88},{"c":"h","x":80,"n":100},{"c":"h","x":90,"n":110},{"c":"h","x":100,"n":120},{"c":"h","x":110,"n":140},{"c":"h","x":120,"n":140},{"c":"h","x":130,"n":155},{"c":"h","x":140,"n":165},{"c":"h","x":150,"n":175},{"c":"h","x":160,"n":180},{"c":"h","x":170,"n":195},{"c":"h","x":180,"n":210},{"c":"h","x":190,"n":215},{"c":"h","x":200,"n":230},{"c":"h","x":210,"n":250},{"c":"h","x":220,"n":295},{"c":"h","x":230,"n":235},{"c":"h","x":240,"n":210},{"c":"h","x":250,"n":185},{"c":"h","x":260,"n":160},{"c":"h","x":270,"n":140},{"c":"h","x":280,"n":130},{"c":"h","x":290,"n":120},{"c":"h","x":300,"n":105},{"c":"h","x":310,"n":95},{"c":"h","x":320,"n":88},{"c":"h","x":330,"n":78},{"c":"h","x":340,"n":70},{"c":"h","x":350,"n":60},{"c":"h","x":360,"n":50},{"c":"h","x":370,"n":45},{"c":"h","x":380,"n":38},{"c":"h","x":390,"n":30},{"c":"h","x":400,"n":20},{"c":"h","x":420,"n":12},{"c":"h","x":450,"n":5},{"c":"h","x":496,"n":0},
{"c":"g","x":0,"n":3},{"c":"g","x":10,"n":10},{"c":"g","x":20,"n":25},{"c":"g","x":30,"n":55},{"c":"g","x":40,"n":90},{"c":"g","x":50,"n":100},{"c":"g","x":60,"n":130},{"c":"g","x":70,"n":135},{"c":"g","x":80,"n":160},{"c":"g","x":90,"n":185},{"c":"g","x":100,"n":200},{"c":"g","x":110,"n":245},{"c":"g","x":120,"n":275},{"c":"g","x":130,"n":300},{"c":"g","x":140,"n":340},{"c":"g","x":150,"n":380},{"c":"g","x":160,"n":440},{"c":"g","x":170,"n":520},{"c":"g","x":180,"n":530},{"c":"g","x":190,"n":540},{"c":"g","x":200,"n":515},{"c":"g","x":210,"n":470},{"c":"g","x":220,"n":430},{"c":"g","x":230,"n":420},{"c":"g","x":240,"n":360},{"c":"g","x":250,"n":310},{"c":"g","x":260,"n":280},{"c":"g","x":270,"n":250},{"c":"g","x":280,"n":230},{"c":"g","x":290,"n":205},{"c":"g","x":300,"n":170},{"c":"g","x":310,"n":140},{"c":"g","x":320,"n":115},{"c":"g","x":330,"n":90},{"c":"g","x":340,"n":70},{"c":"g","x":350,"n":55},{"c":"g","x":360,"n":40},{"c":"g","x":370,"n":30},{"c":"g","x":380,"n":22},{"c":"g","x":390,"n":16},{"c":"g","x":400,"n":10},{"c":"g","x":420,"n":5},{"c":"g","x":450,"n":2},{"c":"g","x":496,"n":0}],
"fDist_k":[
{"c":"h","x":1,"k":2},{"c":"h","x":13,"k":6},{"c":"h","x":32,"k":28},{"c":"h","x":50,"k":59},{"c":"h","x":74,"k":88},{"c":"h","x":98,"k":120},{"c":"h","x":123,"k":147},{"c":"h","x":147,"k":170},{"c":"h","x":172,"k":194},{"c":"h","x":196,"k":221},{"c":"h","x":210,"k":235},{"c":"h","x":222,"k":243},{"c":"h","x":235,"k":232},{"c":"h","x":245,"k":212},{"c":"h","x":269,"k":157},{"c":"h","x":293,"k":120},{"c":"h","x":318,"k":92},{"c":"h","x":342,"k":70},{"c":"h","x":367,"k":46},{"c":"h","x":391,"k":31},{"c":"h","x":415,"k":20},{"c":"h","x":439,"k":13},{"c":"h","x":470,"k":7},{"c":"h","x":495,"k":4},
{"c":"g","x":1,"k":2},{"c":"g","x":13,"k":9},{"c":"g","x":32,"k":46},{"c":"g","x":50,"k":92},{"c":"g","x":74,"k":138},{"c":"g","x":98,"k":194},{"c":"g","x":123,"k":267},{"c":"g","x":147,"k":369},{"c":"g","x":166,"k":461},{"c":"g","x":184,"k":525},{"c":"g","x":196,"k":537},{"c":"g","x":205,"k":520},{"c":"g","x":214,"k":479},{"c":"g","x":233,"k":406},{"c":"g","x":257,"k":300},{"c":"g","x":281,"k":230},{"c":"g","x":306,"k":166},{"c":"g","x":330,"k":101},{"c":"g","x":354,"k":59},{"c":"g","x":379,"k":31},{"c":"g","x":409,"k":15},{"c":"g","x":439,"k":7},{"c":"g","x":470,"k":4},{"c":"g","x":495,"k":2}]
},
"concat":[
{"title":"Distribution of fLength by Class","width":301,"height":105,
 "encoding":{"x":{"field":"x","type":"quantitative","title":"fLength","scale":{"domain":[-12.2,350.7]},"axis":{"values":[0,100,200,300]}}},
 "layer":[
  {"data":{"name":"fLength"},"mark":"area","encoding":{"y":{"field":"n","type":"quantitative","stack":null,"title":"Count","scale":{"domain":[0,1452]},"axis":{"values":[0,500,1000],"format":"d"}},"fill":{"field":"c","type":"nominal","legend":{"title":"class","encode":{"symbols":{"update":{"stroke":{"signal":"datum.value==='g'?'#31688E':'#35B779'"},"strokeOpacity":{"value":0.9}}}}}},"stroke":{"field":"c","type":"nominal","legend":null}}},
  {"data":{"name":"fLength_k"},"mark":"line","encoding":{"y":{"field":"k","type":"quantitative","title":"Count"},"stroke":{"field":"c","type":"nominal","legend":null}}}]},
{"title":"Distribution of fWidth by Class","width":301,"height":105,
 "encoding":{"x":{"field":"x","type":"quantitative","title":"fWidth","scale":{"domain":[-12.8,269.2]},"axis":{"values":[0,50,100,150,200,250]}}},
 "layer":[
  {"data":{"name":"fWidth"},"mark":"area","encoding":{"y":{"field":"n","type":"quantitative","stack":null,"title":"Count","scale":{"domain":[0,966]},"axis":{"values":[0,500],"format":"d"}},"fill":{"field":"c","type":"nominal","legend":{"title":"class","encode":{"symbols":{"update":{"stroke":{"signal":"datum.value==='g'?'#31688E':'#35B779'"},"strokeOpacity":{"value":0.9}}}}}},"stroke":{"field":"c","type":"nominal","legend":null}}},
  {"data":{"name":"fWidth_k"},"mark":"line","encoding":{"y":{"field":"k","type":"quantitative","title":"Count"},"stroke":{"field":"c","type":"nominal","legend":null}}}]},
{"title":"Distribution of fSize by Class","width":301,"height":105,
 "encoding":{"x":{"field":"x","type":"quantitative","title":"fSize","scale":{"domain":[1.772,5.492]},"axis":{"values":[2,3,4,5],"format":"d"}}},
 "layer":[
  {"data":{"name":"fSize"},"mark":"area","encoding":{"y":{"field":"n","type":"quantitative","stack":null,"title":"Count","scale":{"domain":[0,578]},"axis":{"values":[0,200,400],"format":"d"}},"fill":{"field":"c","type":"nominal","legend":{"title":"class","encode":{"symbols":{"update":{"stroke":{"signal":"datum.value==='g'?'#31688E':'#35B779'"},"strokeOpacity":{"value":0.9}}}}}},"stroke":{"field":"c","type":"nominal","legend":null}}},
  {"data":{"name":"fSize_k"},"mark":"line","encoding":{"y":{"field":"k","type":"quantitative","title":"Count"},"stroke":{"field":"c","type":"nominal","legend":null}}}]},
{"title":"Distribution of fConc by Class","width":301,"height":105,
 "encoding":{"x":{"field":"x","type":"quantitative","title":"fConc","scale":{"domain":[-0.023,0.916]},"axis":{"values":[0,0.2,0.4,0.6,0.8],"format":".1f"}}},
 "layer":[
  {"data":{"name":"fConc"},"mark":"area","encoding":{"y":{"field":"n","type":"quantitative","stack":null,"title":"Count","scale":{"domain":[0,653]},"axis":{"values":[0,250,500],"format":"d"}},"fill":{"field":"c","type":"nominal","legend":{"title":"class","encode":{"symbols":{"update":{"stroke":{"signal":"datum.value==='g'?'#31688E':'#35B779'"},"strokeOpacity":{"value":0.9}}}}}},"stroke":{"field":"c","type":"nominal","legend":null}}},
  {"data":{"name":"fConc_k"},"mark":"line","encoding":{"y":{"field":"k","type":"quantitative","title":"Count"},"stroke":{"field":"c","type":"nominal","legend":null}}}]},
{"title":"Distribution of fConc1 by Class","width":301,"height":105,
 "encoding":{"x":{"field":"x","type":"quantitative","title":"fConc1","scale":{"domain":[-0.0334,0.709]},"axis":{"values":[0,0.2,0.4,0.6],"format":".1f"}}},
 "layer":[
  {"data":{"name":"fConc1"},"mark":"area","encoding":{"y":{"field":"n","type":"quantitative","stack":null,"title":"Count","scale":{"domain":[0,656]},"axis":{"values":[0,250,500],"format":"d"}},"fill":{"field":"c","type":"nominal","legend":{"title":"class","encode":{"symbols":{"update":{"stroke":{"signal":"datum.value==='g'?'#31688E':'#35B779'"},"strokeOpacity":{"value":0.9}}}}}},"stroke":{"field":"c","type":"nominal","legend":null}}},
  {"data":{"name":"fConc1_k"},"mark":"line","encoding":{"y":{"field":"k","type":"quantitative","title":"Count"},"stroke":{"field":"c","type":"nominal","legend":null}}}]},
{"title":"Distribution of fAsym by Class","width":301,"height":105,
 "encoding":{"x":{"field":"x","type":"quantitative","title":"fAsym","scale":{"domain":[-509.6,626.8]},"axis":{"values":[-400,-200,0,200,400,600],"format":"d"}}},
 "layer":[
  {"data":{"name":"fAsym"},"mark":"area","encoding":{"y":{"field":"n","type":"quantitative","stack":null,"title":"Count","scale":{"domain":[0,787]},"axis":{"values":[0,500],"format":"d"}},"fill":{"field":"c","type":"nominal","legend":{"title":"class","encode":{"symbols":{"update":{"stroke":{"signal":"datum.value==='g'?'#31688E':'#35B779'"},"strokeOpacity":{"value":0.9}}}}}},"stroke":{"field":"c","type":"nominal","legend":null}}},
  {"data":{"name":"fAsym_k"},"mark":"line","encoding":{"y":{"field":"k","type":"quantitative","title":"Count"},"stroke":{"field":"c","type":"nominal","legend":null}}}]},
{"title":"Distribution of fM3Long by Class","width":301,"height":105,
 "encoding":{"x":{"field":"x","type":"quantitative","title":"fM3Long","scale":{"domain":[-360.3,266.8]},"axis":{"values":[-200,0,200],"format":"d"}}},
 "layer":[
  {"data":{"name":"fM3Long"},"mark":"area","encoding":{"y":{"field":"n","type":"quantitative","stack":null,"title":"Count","scale":{"domain":[0,1023]},"axis":{"values":[0,500,1000],"format":"d"}},"fill":{"field":"c","type":"nominal","legend":{"title":"class","encode":{"symbols":{"update":{"stroke":{"signal":"datum.value==='g'?'#31688E':'#35B779'"},"strokeOpacity":{"value":0.9}}}}}},"stroke":{"field":"c","type":"nominal","legend":null}}},
  {"data":{"name":"fM3Long_k"},"mark":"line","encoding":{"y":{"field":"k","type":"quantitative","title":"Count"},"stroke":{"field":"c","type":"nominal","legend":null}}}]},
{"title":"Distribution of fM3Trans by Class","width":301,"height":105,
 "encoding":{"x":{"field":"x","type":"quantitative","title":"fM3Trans","scale":{"domain":[-225.2,199.1]},"axis":{"values":[-200,-100,0,100],"format":"d"}}},
 "layer":[
  {"data":{"name":"fM3Trans"},"mark":"area","encoding":{"y":{"field":"n","type":"quantitative","stack":null,"title":"Count","scale":{"domain":[0,902]},"axis":{"values":[0,500],"format":"d"}},"fill":{"field":"c","type":"nominal","legend":{"title":"class","encode":{"symbols":{"update":{"stroke":{"signal":"datum.value==='g'?'#31688E':'#35B779'"},"strokeOpacity":{"value":0.9}}}}}},"stroke":{"field":"c","type":"nominal","legend":null}}},
  {"data":{"name":"fM3Trans_k"},"mark":"line","encoding":{"y":{"field":"k","type":"quantitative","title":"Count"},"stroke":{"field":"c","type":"nominal","legend":null}}}]},
{"title":"Distribution of fAlpha by Class","width":301,"height":105,
 "encoding":{"x":{"field":"x","type":"quantitative","title":"fAlpha","scale":{"domain":[-4.5,94.5]},"axis":{"values":[0,20,40,60,80],"format":"d"}}},
 "layer":[
  {"data":{"name":"fAlpha"},"mark":"area","encoding":{"y":{"field":"n","type":"quantitative","stack":null,"title":"Count","scale":{"domain":[0,2791]},"axis":{"values":[0,1000,2000],"format":"d"}},"fill":{"field":"c","type":"nominal","legend":{"title":"class","encode":{"symbols":{"update":{"stroke":{"signal":"datum.value==='g'?'#31688E':'#35B779'"},"strokeOpacity":{"value":0.9}}}}}},"stroke":{"field":"c","type":"nominal","legend":null}}},
  {"data":{"name":"fAlpha_k"},"mark":"line","encoding":{"y":{"field":"k","type":"quantitative","title":"Count"},"stroke":{"field":"c","type":"nominal","legend":null}}}]},
{"title":"Distribution of fDist by Class","width":292,"height":105,
 "encoding":{"x":{"field":"x","type":"quantitative","title":"fDist","scale":{"domain":[-25,509]},"axis":{"values":[0,100,200,300,400,500],"format":"d"}}},
 "layer":[
  {"data":{"name":"fDist"},"mark":"area","encoding":{"y":{"field":"n","type":"quantitative","stack":null,"title":"Count","scale":{"domain":[0,580]},"axis":{"values":[0,200,400],"format":"d"}},"fill":{"field":"c","type":"nominal","legend":{"title":"class","encode":{"symbols":{"update":{"stroke":{"signal":"datum.value==='g'?'#31688E':'#35B779'"},"strokeOpacity":{"value":0.9}}}}}},"stroke":{"field":"c","type":"nominal","legend":null}}},
  {"data":{"name":"fDist_k"},"mark":"line","encoding":{"y":{"field":"k","type":"quantitative","title":"Count"},"stroke":{"field":"c","type":"nominal","legend":null}}}]}
],
"config":{
 "font":"DejaVu Sans",
 "view":{"stroke":"#262626","strokeWidth":1},
 "range":{"category":["#31688E","#35B779"]},
 "area":{"interpolate":"step-after","fillOpacity":0.6,"strokeOpacity":0.85,"strokeWidth":1},
 "line":{"interpolate":"monotone","strokeWidth":1.8},
 "axis":{"grid":false,"domain":false,"tickColor":"#000","tickSize":5,"tickWidth":1,"labelFont":"DejaVu Sans","labelFontSize":16,"labelFontWeight":"bold","labelColor":"#000","labelPadding":2,"labelFlush":false,"labelOverlap":false,"labelBound":false,"titleFont":"DejaVu Sans","titleFontSize":15.5,"titleFontWeight":"normal","titleColor":"#000","titlePadding":4},
 "axisX":{"titlePadding":2},
 "axisY":{"titlePadding":5},
 "legend":{"orient":"top-right","offset":8,"padding":6,"fillColor":"rgba(255,255,255,0.8)","strokeColor":"#cfcfcf","cornerRadius":4,"titleFont":"DejaVu Sans","titleFontSize":15.5,"titleFontWeight":"bold","titleColor":"#000","titleAnchor":"middle","titlePadding":3,"labelFont":"DejaVu Sans","labelFontSize":15.5,"labelFontWeight":"bold","labelColor":"#000","labelOffset":20,"symbolType":"M-1,-0.5H2.1V0.5H-1Z","symbolSize":400,"symbolStrokeWidth":1.5,"rowPadding":4}
 ,"title":{"font":"DejaVu Sans","fontSize":18.4,"fontWeight":"normal","color":"#000","anchor":"middle","frame":"group","offset":6}
}
}
